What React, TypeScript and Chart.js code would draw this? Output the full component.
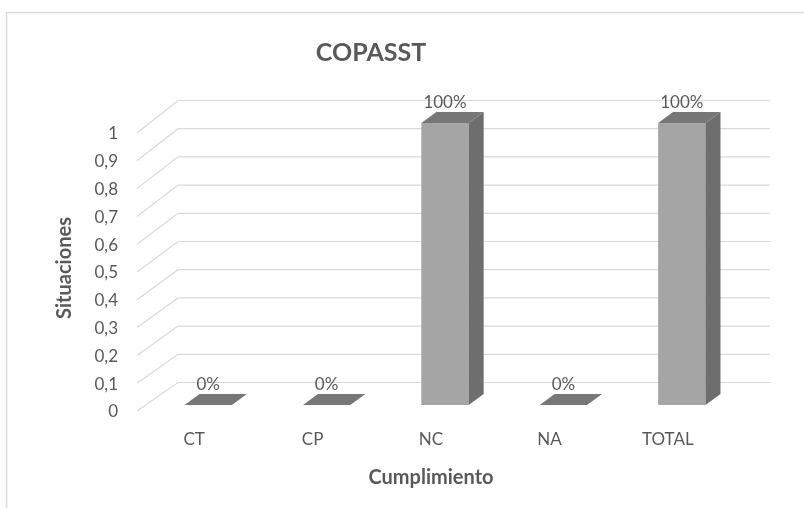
import React, { useEffect, useRef } from "react";
import { Chart, registerables } from "chart.js";

Chart.register(...registerables);

const categories = ["CT", "CP", "NC", "NA", "TOTAL"];
const values = [0, 0, 1, 0, 1];
const yTicks = [0, 0.1, 0.2, 0.3, 0.4, 0.5, 0.6, 0.7, 0.8, 0.9, 1];
const yTickLabels = ["0", "0,1", "0,2", "0,3", "0,4", "0,5", "0,6", "0,7", "0,8", "0,9", "1"];
const chartTitle = "COPASST";
const xTitle = "Cumplimiento";
const yTitle = "Situaciones";

const FONT = "Lato, 'Open Sans', sans-serif";
const GRAY = "#595959";
const GRID = "#d9d9d9";
const FRONT = "#a5a5a5";
const SIDE = "#6e6e6e";
const TOP = "#777777";
const FACE_DX = 14;
const DEPTH_DX = 15;
const DEPTH_DY = -11;

const excel3d = {
  id: "excel3d",
  beforeDraw(chart: any) {
    const ctx = chart.ctx;
    ctx.save();
    ctx.fillStyle = "#ffffff";
    ctx.fillRect(0, 0, chart.width, chart.height);
    ctx.strokeStyle = GRID;
    ctx.lineWidth = 1.5;
    ctx.strokeRect(6.5, 12.5, chart.width + 20, chart.height + 20);
    ctx.fillStyle = GRAY;
    ctx.font = `bold 25px ${FONT}`;
    ctx.textAlign = "center";
    ctx.textBaseline = "middle";
    ctx.fillText(chartTitle, 371, 53);
    ctx.restore();
  },
  beforeDatasetsDraw(chart: any) {
    const { ctx, scales } = chart;
    const x = scales.x;
    const y = scales.y;
    const yt = scales.yt;
    ctx.save();
    ctx.strokeStyle = GRID;
    ctx.lineWidth = 1.2;
    yTicks.forEach((v) => {
      const fx = x.left + 2;
      const fy = yt.getPixelForValue(v) - 1;
      const bx = x.left + 43;
      const by = y.getPixelForValue(v) - 22.5;
      ctx.beginPath();
      ctx.moveTo(fx, fy);
      ctx.lineTo(bx, by);
      ctx.lineTo(x.right + 43, by);
      ctx.stroke();
    });
    ctx.restore();
  },
  afterDatasetsDraw(chart: any) {
    const ctx = chart.ctx;
    const meta = chart.getDatasetMeta(0);
    ctx.save();
    meta.data.forEach((bar: any, i: number) => {
      const p = bar.getProps(["x", "y", "base", "width"], true);
      const l = p.x - p.width / 2 + FACE_DX;
      const r = p.x + p.width / 2 + FACE_DX;
      const top = Math.min(p.y, p.base);
      const base = Math.max(p.y, p.base);
      if (base - top > 0.5) {
        ctx.fillStyle = FRONT;
        ctx.fillRect(l, top, r - l, base - top);
        ctx.fillStyle = SIDE;
        ctx.beginPath();
        ctx.moveTo(r, top);
        ctx.lineTo(r + DEPTH_DX, top + DEPTH_DY);
        ctx.lineTo(r + DEPTH_DX, base + DEPTH_DY);
        ctx.lineTo(r, base);
        ctx.closePath();
        ctx.fill();
      }
      ctx.fillStyle = TOP;
      ctx.beginPath();
      ctx.moveTo(l, top);
      ctx.lineTo(r, top);
      ctx.lineTo(r + DEPTH_DX, top + DEPTH_DY);
      ctx.lineTo(l + DEPTH_DX, top + DEPTH_DY);
      ctx.closePath();
      ctx.fill();
      ctx.fillStyle = GRAY;
      ctx.font = `17px ${FONT}`;
      ctx.textAlign = "center";
      ctx.textBaseline = "middle";
      ctx.fillText(`${Math.round(values[i] * 100)}%`, (l + r) / 2, top - 20.5);
    });
    ctx.restore();
  },
};

export default function App() {
  const ref = useRef<HTMLCanvasElement | null>(null);
  useEffect(() => {
    document.body.style.margin = "0";
    if (!ref.current) return;
    const chart = new Chart(ref.current, {
      type: "bar",
      data: {
        labels: categories,
        datasets: [
          {
            data: values,
            xAxisID: "x",
            yAxisID: "y",
            backgroundColor: "rgba(0,0,0,0)",
            borderWidth: 0,
            barPercentage: 0.4,
            categoryPercentage: 1,
          },
        ],
      },
      options: {
        responsive: false,
        animation: false,
        events: [],
        layout: { padding: { top: 123, right: 77, left: 0, bottom: 0 } },
        plugins: {
          legend: { display: false },
          title: { display: false },
          tooltip: { enabled: false },
        },
        scales: {
          x: {
            type: "category",
            grid: { display: false, drawTicks: false },
            border: { display: false },
            ticks: {
              color: GRAY,
              font: { family: FONT, size: 17 },
              padding: 16,
              maxRotation: 0,
              autoSkip: false,
            },
            title: {
              display: true,
              text: xTitle,
              color: GRAY,
              font: { family: FONT, size: 20, weight: "bold" },
              padding: { top: 0, bottom: 18 },
            },
            afterFit: (s: any) => {
              s.height = 95;
            },
          },
          y: {
            type: "linear",
            display: false,
            min: -0.02837,
            max: 1.0,
          },
          yt: {
            type: "linear",
            position: "left",
            min: -0.0036,
            max: 1.0396,
            grid: { display: false, drawTicks: false },
            border: { display: false },
            ticks: {
              color: GRAY,
              font: { family: FONT, size: 17 },
              padding: 17,
              autoSkip: false,
              callback: (_v: any, i: number) => yTickLabels[i],
            },
            afterBuildTicks: (s: any) => {
              s.ticks = yTicks.map((v) => ({ value: v }));
            },
            title: {
              display: true,
              text: yTitle,
              color: GRAY,
              font: { family: FONT, size: 20, weight: "bold" },
              padding: { top: 53, bottom: 0 },
            },
            afterFit: (s: any) => {
              s.width = 135;
            },
          },
        },
      } as any,
      plugins: [excel3d],
    });
    return () => chart.destroy();
  }, []);
  return (
    <div style={{ position: "absolute", left: 0, top: 0, width: 804, height: 508 }}>
      <canvas ref={ref} width={804} height={508} style={{ display: "block" }} />
    </div>
  );
}
